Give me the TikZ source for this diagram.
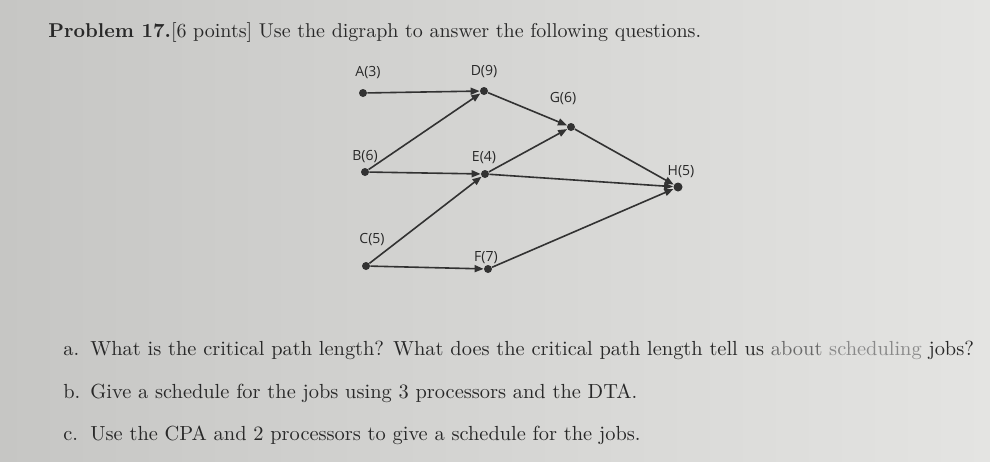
\documentclass[tikz,border=0pt]{standalone}
\usepackage{fontspec}
\newfontfamily\labelfont{Open Sans}
\usetikzlibrary{arrows.meta}
\definecolor{ink}{RGB}{40,40,40}
\definecolor{linegray}{RGB}{50,50,50}
\definecolor{paperleft}{RGB}{198,198,196}
\definecolor{paperright}{RGB}{228,228,226}

\begin{document}
\begin{tikzpicture}[x=0.5pt,y=-0.5pt,
    dot/.style={circle,fill=linegray,inner sep=0pt,minimum size=4pt},
    lbl/.style={font=\labelfont\fontsize{7}{8}\selectfont,text=ink},
    link/.style={draw=linegray,line width=0.8pt,-{Triangle[length=4.5pt,width=3.5pt]}},
    txt/.style={anchor=base west,text=ink,inner sep=0pt},
    qtxt/.style={txt,font=\fontsize{10.2}{12}\selectfont}]
    % Paper
    \fill[left color=paperleft,right color=paperright] (0,0) rectangle (990,461);
    \useasboundingbox (0,0) rectangle (990,461);

    % Heading
    \node[txt] (title) at (48,37) {\textbf{Problem 17.}[6 points] Use the digraph to answer the following questions.};

    % Jobs
    \node[dot] (A) at (363,93) {};
    \node[dot] (D) at (484,91) {};
    \node[dot] (G) at (571,127) {};
    \node[dot] (B) at (365,172) {};
    \node[dot] (E) at (485,174) {};
    \node[dot,minimum size=4.5pt] (H) at (678,187) {};
    \node[dot] (C) at (366,266) {};
    \node[dot] (F) at (488,269) {};

    % Labels
    \node[lbl] (lA) at (368,73) {A(3)};
    \node[lbl] (lD) at (484,72) {D(9)};
    \node[lbl] (lG) at (563,99) {G(6)};
    \node[lbl] (lB) at (365,157) {B(6)};
    \node[lbl] (lE) at (484,158) {E(4)};
    \node[lbl] (lH) at (681,172) {H(5)};
    \node[lbl] (lC) at (372,240) {C(5)};
    \node[lbl] (lF) at (486,258) {F(7)};

    % Precedence
    \draw[link] (A) -- (D);
    \draw[link] (B) -- (D);
    \draw[link] (B) -- (E);
    \draw[link] (C) -- (E);
    \draw[link] (C) -- (F);
    \draw[link] (D) -- (G);
    \draw[link] (E) -- (G);
    \draw[link] (E) -- (H);
    \draw[link] (G) -- (H);
    \draw[link] (F) -- (H);

    % Questions
    \node[qtxt] (qa) at (63,355) {\makebox[13.5pt][l]{a.}What is the critical path length? What does the critical path length tell us {\color{ink!70}about} {\color{ink!55}scheduling} jobs?};
    \node[qtxt] (qb) at (63,398) {\makebox[13.5pt][l]{b.}Give a schedule for the jobs using 3 processors and the DTA.};
    \node[qtxt] (qc) at (63,440) {\makebox[13.5pt][l]{c.}Use the CPA and 2 processors to give a schedule for the jobs.};
\end{tikzpicture}
\end{document}
